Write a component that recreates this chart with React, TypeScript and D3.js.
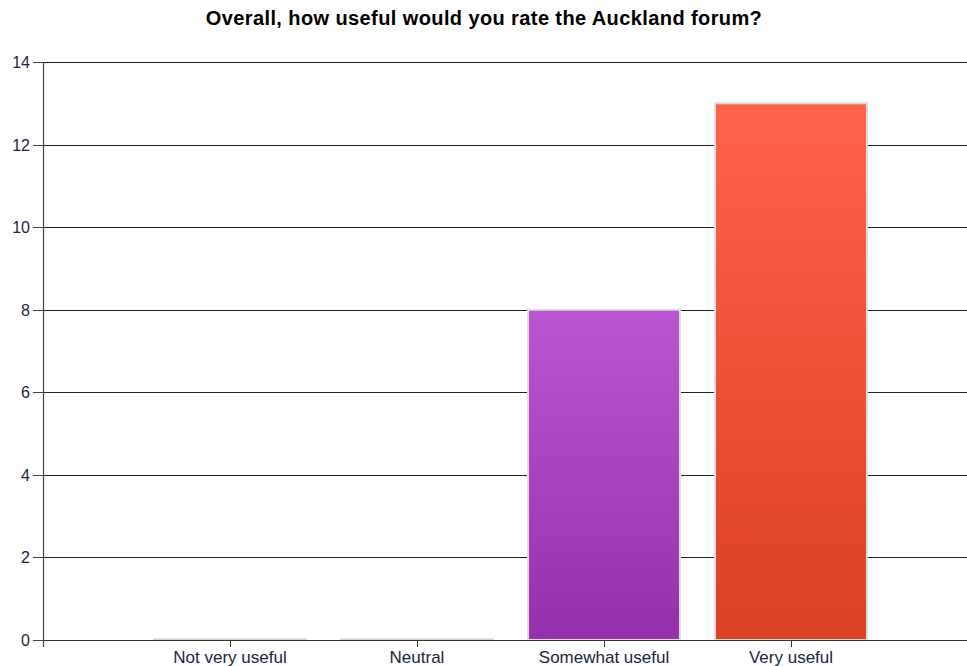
import React from "react";
import * as d3 from "d3";

const categories = ["Not very useful", "Neutral", "Somewhat useful", "Very useful"];
const values = [0, 0, 8, 13];
const yTicks = [0, 2, 4, 6, 8, 10, 12, 14];
const title = "Overall, how useful would you rate the Auckland forum?";

const W = 967;
const H = 666;
const left = 43;
const top = 62;
const bottom = 640;
const step = 187;

export default function App() {
  const y = d3.scaleLinear().domain([0, 14]).range([bottom, top]);
  const x = d3.scaleLinear().domain([0, categories.length + 1]).range([left, left + step * (categories.length + 1)]);
  const barW = 152;
  const font = "'Liberation Sans', Arial, sans-serif";
  const tickColor = "#1c2540";
  return (
    <svg width={W} height={H} style={{ position: "absolute", left: 0, top: 0, background: "#fff" }}>
      <defs>
        <linearGradient id="g2" x1="0" y1="0" x2="0" y2="1">
          <stop offset="0" stopColor="#BA56D2" />
          <stop offset="1" stopColor="#9530AD" />
        </linearGradient>
        <linearGradient id="g3" x1="0" y1="0" x2="0" y2="1">
          <stop offset="0" stopColor="#FF634A" />
          <stop offset="1" stopColor="#DA4024" />
        </linearGradient>
      </defs>
      <text x={484} y={25} textAnchor="middle" fontFamily={font} fontWeight="bold" fontSize={20} letterSpacing={0.4} fill="#000">
        {title}
      </text>
      {yTicks.map((t) => (
        <g key={t}>
          <line x1={left} x2={W} y1={Math.round(y(t)) + 0.5} y2={Math.round(y(t)) + 0.5} stroke="#222" strokeWidth={1} />
          <line x1={left - 10} x2={left} y1={Math.round(y(t)) + 0.5} y2={Math.round(y(t)) + 0.5} stroke="#444" strokeWidth={1} />
          <text x={30} y={y(t) + 6} textAnchor="end" fontFamily={font} fontSize={16} fill={tickColor}>
            {t}
          </text>
        </g>
      ))}
      {categories.map((c, i) => {
        const cx = x(i + 1);
        const v = values[i];
        const grad = i === 2 ? "url(#g2)" : i === 3 ? "url(#g3)" : "#ccc";
        return (
          <g key={c}>
            {v > 0 ? (
              <rect x={cx - barW / 2} y={y(v)} width={barW} height={y(0) - y(v)} fill={grad} stroke="#dcdcdc" strokeWidth={2} />
            ) : (
              <line x1={cx - 77} x2={cx + 77} y1={bottom - 0.5} y2={bottom - 0.5} stroke="#d0d0d0" strokeWidth={2} />
            )}
          </g>
        );
      })}
      <line x1={left} x2={W} y1={bottom + 0.5} y2={bottom + 0.5} stroke="#333" strokeWidth={1} />
      <line x1={left + 0.5} x2={left + 0.5} y1={top} y2={bottom + 7} stroke="#444" strokeWidth={1.2} />
      {categories.map((c, i) => (
        <g key={c + "t"}>
          <line x1={Math.round(x(i + 1)) + 0.5} x2={Math.round(x(i + 1)) + 0.5} y1={bottom} y2={bottom + 7} stroke="#333" />
          <text x={x(i + 1)} y={663} textAnchor="middle" fontFamily={font} fontSize={17} fill={tickColor}>
            {c}
          </text>
        </g>
      ))}
    </svg>
  );
}
